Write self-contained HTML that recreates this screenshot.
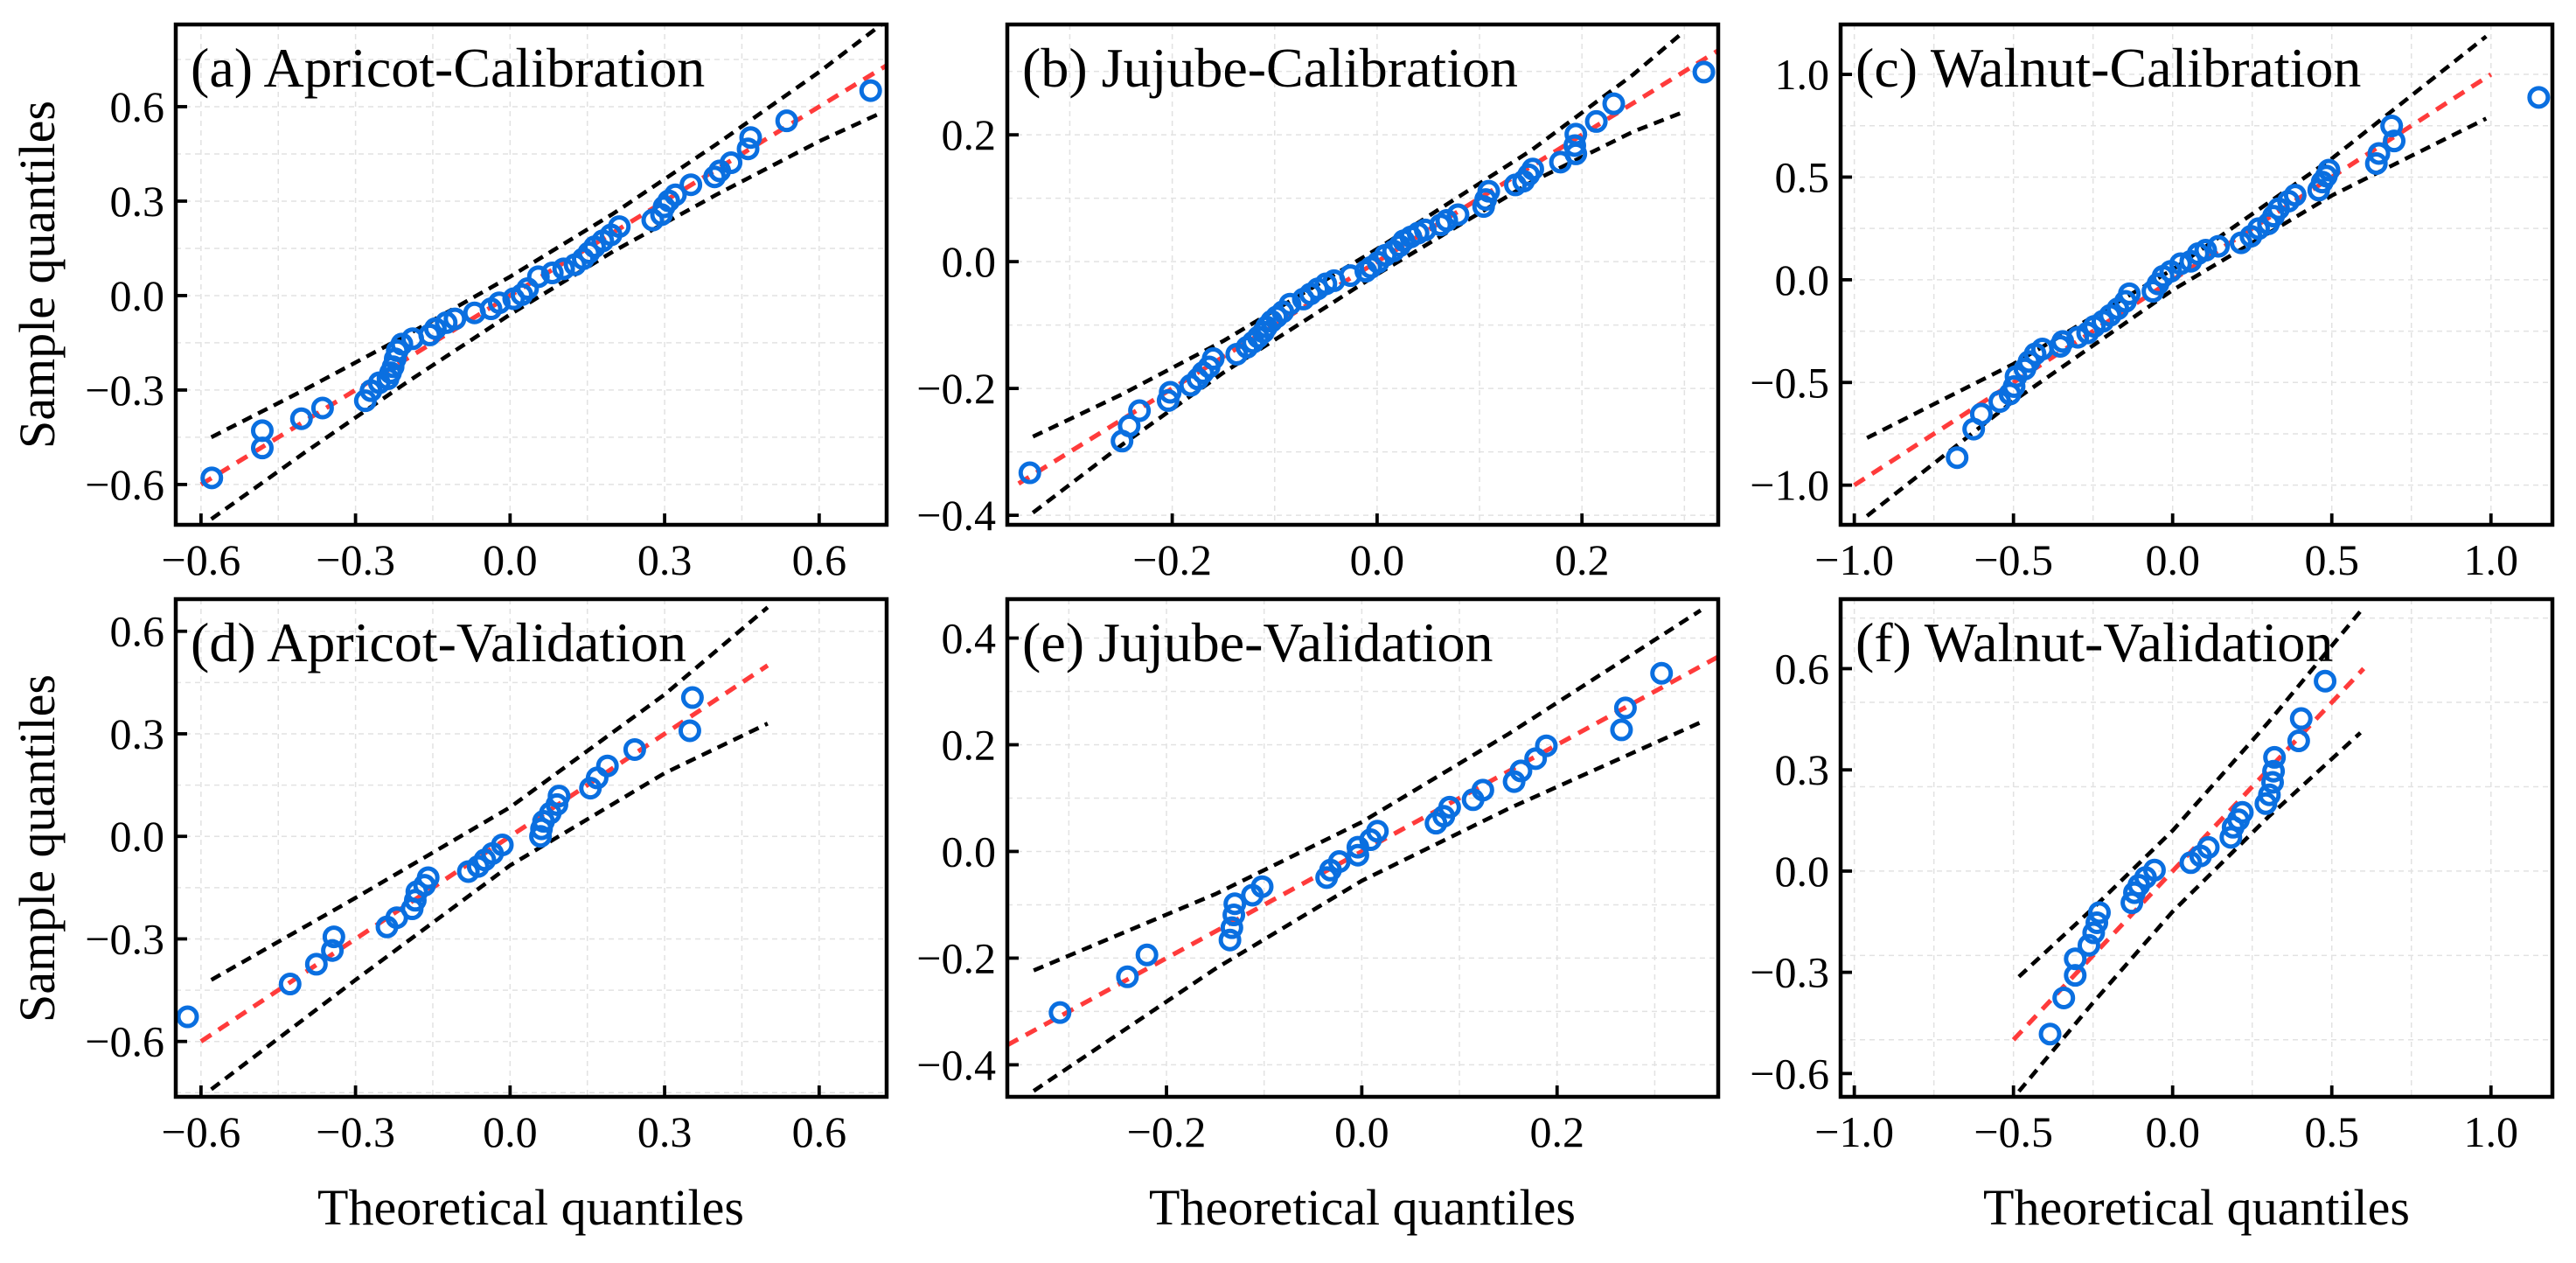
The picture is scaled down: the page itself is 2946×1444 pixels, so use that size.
<!DOCTYPE html>
<html><head><meta charset="utf-8">
<style>
html,body{margin:0;padding:0;background:#fff;}
svg{display:block;font-family:"Liberation Serif","Times New Roman",serif;}
</style></head>
<body>
<svg id="fig" width="2946" height="1444" viewBox="0 0 2946 1444" xmlns="http://www.w3.org/2000/svg">
<rect x="0" y="0" width="2946" height="1444" fill="#fff"/>
<text x="0" y="0" transform="translate(62,314) rotate(-90)" text-anchor="middle" font-size="58">Sample quantiles</text>
<text x="0" y="0" transform="translate(62,970) rotate(-90)" text-anchor="middle" font-size="58">Sample quantiles</text>
<text x="607" y="1400" text-anchor="middle" font-size="58">Theoretical quantiles</text>
<text x="1558" y="1400" text-anchor="middle" font-size="58">Theoretical quantiles</text>
<text x="2512" y="1400" text-anchor="middle" font-size="58">Theoretical quantiles</text>
</svg>
<script>
// ---- Panel (a) Apricot-Calibration ----
const aTheo=[-0.579,-0.481,-0.481,-0.405,-0.364,-0.281,-0.27,-0.254,-0.237,-0.232,-0.227,-0.223,-0.219,-0.21,-0.189,-0.156,-0.145,-0.124,-0.107,-0.069,-0.037,-0.021,0.007,0.023,0.034,0.055,0.082,0.104,0.126,0.142,0.153,0.164,0.18,0.196,0.212,0.277,0.294,0.299,0.308,0.321,0.351,0.397,0.407,0.429,0.462,0.467,0.537,0.7];
const aSample=[-0.579,-0.484,-0.429,-0.391,-0.357,-0.334,-0.302,-0.277,-0.264,-0.245,-0.226,-0.201,-0.175,-0.154,-0.137,-0.125,-0.105,-0.086,-0.074,-0.055,-0.042,-0.023,-0.01,0.003,0.022,0.06,0.072,0.085,0.098,0.117,0.136,0.155,0.174,0.193,0.219,0.24,0.257,0.282,0.301,0.32,0.352,0.377,0.396,0.422,0.466,0.502,0.555,0.651];
const aEnvX=[-0.58,-0.4,-0.2,0,0.2,0.4,0.6,0.72];
const aEnvUpper=[-0.45,-0.30,-0.125,0.06,0.26,0.48,0.71,0.86];
const aEnvLower=[-0.71,-0.5,-0.275,-0.06,0.14,0.32,0.49,0.58];
const aRefX=[-0.6,0.735];
const aXTicks=[-0.6,-0.3,0.0,0.3,0.6];
const aYTicks=[-0.6,-0.3,0.0,0.3,0.6];
// ---- Panel (b) Jujube-Calibration ----
const bTheo=[-0.339,-0.249,-0.242,-0.232,-0.204,-0.202,-0.182,-0.175,-0.17,-0.164,-0.16,-0.137,-0.127,-0.121,-0.116,-0.111,-0.108,-0.103,-0.098,-0.092,-0.085,-0.072,-0.065,-0.058,-0.05,-0.042,-0.026,-0.011,-0.006,0.001,0.008,0.016,0.022,0.026,0.033,0.04,0.047,0.062,0.068,0.079,0.104,0.106,0.109,0.135,0.143,0.148,0.152,0.179,0.194,0.193,0.194,0.214,0.231,0.319];
const bSample=[-0.333,-0.283,-0.259,-0.235,-0.219,-0.206,-0.195,-0.185,-0.175,-0.166,-0.153,-0.146,-0.135,-0.127,-0.119,-0.111,-0.103,-0.094,-0.087,-0.079,-0.067,-0.059,-0.051,-0.043,-0.035,-0.03,-0.022,-0.015,-0.009,-0.001,0.01,0.017,0.025,0.033,0.039,0.045,0.05,0.058,0.065,0.074,0.087,0.098,0.111,0.121,0.127,0.137,0.146,0.157,0.17,0.183,0.201,0.221,0.249,0.299];
const bEnvX=[-0.336,-0.25,-0.15,0,0.15,0.25,0.296];
const bEnvUpper=[-0.276,-0.21,-0.125,0.02,0.175,0.295,0.358];
const bEnvLower=[-0.396,-0.29,-0.175,-0.02,0.125,0.205,0.234];
const bRefX=[-0.35,0.333];
const bXTicks=[-0.2,0.0,0.2];
const bYTicks=[-0.4,-0.2,0.0,0.2];
// ---- Panel (c) Walnut-Calibration ----
const cTheo=[-0.677,-0.625,-0.601,-0.543,-0.511,-0.498,-0.492,-0.464,-0.451,-0.432,-0.409,-0.353,-0.345,-0.298,-0.267,-0.246,-0.219,-0.196,-0.172,-0.148,-0.136,-0.062,-0.046,-0.03,-0.006,0.025,0.057,0.08,0.104,0.144,0.215,0.246,0.27,0.301,0.317,0.333,0.364,0.385,0.459,0.47,0.483,0.491,0.64,0.648,0.696,0.688,1.15];
const cSample=[-0.866,-0.727,-0.654,-0.593,-0.556,-0.52,-0.471,-0.434,-0.398,-0.361,-0.337,-0.324,-0.3,-0.28,-0.259,-0.227,-0.202,-0.173,-0.141,-0.105,-0.068,-0.056,-0.02,0.017,0.041,0.078,0.09,0.127,0.144,0.163,0.18,0.212,0.249,0.273,0.31,0.346,0.383,0.412,0.437,0.476,0.505,0.534,0.566,0.615,0.676,0.749,0.888];
const cEnvX=[-0.96,-0.5,0,0.5,0.985];
const cEnvUpper=[-0.77,-0.41,0.05,0.59,1.185];
const cEnvLower=[-1.15,-0.59,-0.05,0.41,0.785];
const cRefX=[-1.0,1.0];
const cXTicks=[-1.0,-0.5,0.0,0.5,1.0];
const cYTicks=[-1.0,-0.5,0.0,0.5,1.0];
// ---- Panel (d) Apricot-Validation ----
const dTheo=[-0.626,-0.427,-0.376,-0.345,-0.342,-0.239,-0.22,-0.19,-0.184,-0.181,-0.166,-0.159,-0.081,-0.062,-0.049,-0.034,-0.015,0.059,0.061,0.065,0.078,0.091,0.095,0.156,0.169,0.189,0.242,0.349,0.354];
const dSample=[-0.528,-0.432,-0.374,-0.334,-0.294,-0.265,-0.238,-0.212,-0.187,-0.162,-0.143,-0.121,-0.103,-0.088,-0.069,-0.05,-0.025,0,0.022,0.044,0.068,0.093,0.118,0.141,0.171,0.206,0.254,0.309,0.406];
const dEnvX=[-0.58,-0.3,0,0.3,0.5];
const dEnvUpper=[-0.42,-0.18,0.085,0.415,0.67];
const dEnvLower=[-0.74,-0.42,-0.085,0.185,0.33];
const dRefX=[-0.6,0.5];
const dXTicks=[-0.6,-0.3,0.0,0.3,0.6];
const dYTicks=[-0.6,-0.3,0.0,0.3,0.6];
// ---- Panel (e) Jujube-Validation ----
const eTheo=[-0.309,-0.24,-0.22,-0.135,-0.133,-0.131,-0.13,-0.112,-0.102,-0.036,-0.032,-0.023,-0.004,-0.004,0.009,0.016,0.076,0.084,0.09,0.114,0.124,0.156,0.163,0.178,0.189,0.266,0.27,0.307];
const eSample=[-0.302,-0.235,-0.194,-0.166,-0.143,-0.119,-0.098,-0.082,-0.066,-0.049,-0.035,-0.019,-0.007,0.008,0.022,0.038,0.053,0.066,0.083,0.097,0.115,0.131,0.151,0.174,0.198,0.228,0.269,0.334];
const eEnvX=[-0.336,-0.15,0,0.15,0.347];
const eEnvUpper=[-0.223,-0.08,0.055,0.22,0.452];
const eEnvLower=[-0.449,-0.22,-0.055,0.08,0.242];
const eRefX=[-0.363,0.365];
const eXTicks=[-0.2,0.0,0.2];
const eYTicks=[-0.4,-0.2,0.0,0.2,0.4];
// ---- Panel (f) Walnut-Validation ----
const fTheo=[-0.385,-0.342,-0.306,-0.306,-0.263,-0.248,-0.238,-0.23,-0.128,-0.12,-0.106,-0.085,-0.057,0.057,0.088,0.112,0.183,0.19,0.207,0.219,0.293,0.304,0.314,0.317,0.32,0.396,0.404,0.479];
const fSample=[-0.483,-0.376,-0.309,-0.26,-0.22,-0.183,-0.153,-0.123,-0.094,-0.064,-0.042,-0.019,0.003,0.025,0.045,0.07,0.1,0.13,0.152,0.174,0.2,0.226,0.263,0.296,0.337,0.386,0.452,0.563];
const fEnvX=[-0.483,-0.25,0,0.3,0.59];
const fEnvUpper=[-0.313,-0.11,0.12,0.44,0.77];
const fEnvLower=[-0.653,-0.39,-0.12,0.16,0.41];
const fRefX=[-0.5,0.6];
const fXTicks=[-1.0,-0.5,0.0,0.5,1.0];
const fYTicks=[-0.6,-0.3,0.0,0.3,0.6];

const NS="http://www.w3.org/2000/svg";
const svg=document.getElementById('fig');
function mk(tag,attrs,parent){const e=document.createElementNS(NS,tag);for(const k in attrs)e.setAttribute(k,attrs[k]);(parent||svg).appendChild(e);return e;}

const panels=[
 {id:'a',title:'(a) Apricot-Calibration',L:201,R:1014,T:28,B:600,xl:[-0.649,0.731],yl:[-0.728,0.861],th:aTheo,sa:aSample,ex:aEnvX,eu:aEnvUpper,elo:aEnvLower,rx:aRefX,xt:aXTicks,yt:aYTicks,gx:0.15,gy:0.15},
 {id:'b',title:'(b) Jujube-Calibration',L:1152,R:1965,T:28,B:600,xl:[-0.361,0.333],yl:[-0.415,0.374],th:bTheo,sa:bSample,ex:bEnvX,eu:bEnvUpper,elo:bEnvLower,rx:bRefX,xt:bXTicks,yt:bYTicks,gx:0.1,gy:0.1},
 {id:'c',title:'(c) Walnut-Calibration',L:2105,R:2919,T:28,B:600,xl:[-1.043,1.193],yl:[-1.193,1.243],th:cTheo,sa:cSample,ex:cEnvX,eu:cEnvUpper,elo:cEnvLower,rx:cRefX,xt:cXTicks,yt:cYTicks,gx:0.25,gy:0.25},
 {id:'d',title:'(d) Apricot-Validation',L:201,R:1014,T:685,B:1254,xl:[-0.649,0.731],yl:[-0.762,0.694],th:dTheo,sa:dSample,ex:dEnvX,eu:dEnvUpper,elo:dEnvLower,rx:dRefX,xt:dXTicks,yt:dYTicks,gx:0.15,gy:0.15},
 {id:'e',title:'(e) Jujube-Validation',L:1152,R:1965,T:685,B:1254,xl:[-0.363,0.365],yl:[-0.46,0.473],th:eTheo,sa:eSample,ex:eEnvX,eu:eEnvUpper,elo:eEnvLower,rx:eRefX,xt:eXTicks,yt:eYTicks,gx:0.1,gy:0.1},
 {id:'f',title:'(f) Walnut-Validation',L:2105,R:2919,T:685,B:1254,xl:[-1.043,1.193],yl:[-0.669,0.806],th:fTheo,sa:fSample,ex:fEnvX,eu:fEnvUpper,elo:fEnvLower,rx:fRefX,xt:fXTicks,yt:fYTicks,gx:0.25,gy:0.25}
];

function fmt(v){const s=Math.abs(v).toFixed(1);return (v<-1e-9?'\u2212':'')+s;}

panels.forEach(p=>{
 const sx=v=>p.L+(v-p.xl[0])/(p.xl[1]-p.xl[0])*(p.R-p.L);
 const sy=v=>p.B-(v-p.yl[0])/(p.yl[1]-p.yl[0])*(p.B-p.T);
 const g=mk('g',{});
 
 
 const cid='clip-'+p.id;
 const cp=mk('clipPath',{id:cid},g);
 mk('rect',{x:p.L,y:p.T,width:p.R-p.L,height:p.B-p.T},cp);
 const gg=mk('g',{'clip-path':'url(#'+cid+')'},g);
 
 
 for(let v=Math.ceil(p.xl[0]/p.gx)*p.gx;v<=p.xl[1];v+=p.gx){const X=sx(v);mk('line',{x1:X,x2:X,y1:p.T,y2:p.B,stroke:'#e2e2e2','stroke-width':1.5,'stroke-dasharray':'6,5'},gg);}
 for(let v=Math.ceil(p.yl[0]/p.gy)*p.gy;v<=p.yl[1];v+=p.gy){const Y=sy(v);mk('line',{x1:p.L,x2:p.R,y1:Y,y2:Y,stroke:'#e2e2e2','stroke-width':1.5,'stroke-dasharray':'6,5'},gg);}
 const dg=mk('g',{'clip-path':'url(#'+cid+')'},g);
 const up=p.ex.map((x,i)=>sx(x)+','+sy(p.eu[i])).join(' ');
 const lo=p.ex.map((x,i)=>sx(x)+','+sy(p.elo[i])).join(' ');
 const u=mk('polyline',{points:up,fill:'none',stroke:'#000','stroke-width':4.6,'stroke-dasharray':'12,8'},dg);
 
 
 const l=mk('polyline',{points:lo,fill:'none',stroke:'#000','stroke-width':4.6,'stroke-dasharray':'12,8'},dg);
 
 
 const r=mk('line',{x1:sx(p.rx[0]),y1:sy(p.rx[0]),x2:sx(p.rx[1]),y2:sy(p.rx[1]),stroke:'#ff3b3b','stroke-width':5.2,'stroke-dasharray':'14,10'},dg);
 
 
 const pg=mk('g',{},g);
 p.th.forEach((x,i)=>{
  const c=mk('circle',{cx:sx(x),cy:sy(p.sa[i]),r:10.5,fill:'none',stroke:'#0a6fe0','stroke-width':5},pg);
  
  
 });
 const fr=mk('rect',{x:p.L,y:p.T,width:p.R-p.L,height:p.B-p.T,fill:'none',stroke:'#000','stroke-width':4.5},g);
 
 
 p.xt.forEach(v=>{const X=sx(v);
  mk('line',{x1:X,x2:X,y1:p.B,y2:p.B-13,stroke:'#000','stroke-width':3.8},g);
  const t=mk('text',{x:X,y:p.B+57,'text-anchor':'middle','font-size':50},g);t.textContent=fmt(v);
  
  
 });
 p.yt.forEach(v=>{const Y=sy(v);
  mk('line',{x1:p.L,x2:p.L+13,y1:Y,y2:Y,stroke:'#000','stroke-width':3.8},g);
  const t=mk('text',{x:p.L-13,y:Y+17,'text-anchor':'end','font-size':50},g);t.textContent=fmt(v);
  
  
 });
 const tt=mk('text',{x:p.L+17,y:p.T+71,'font-size':64},g);tt.textContent=p.title;
 
 
});
</script>
</body></html>
